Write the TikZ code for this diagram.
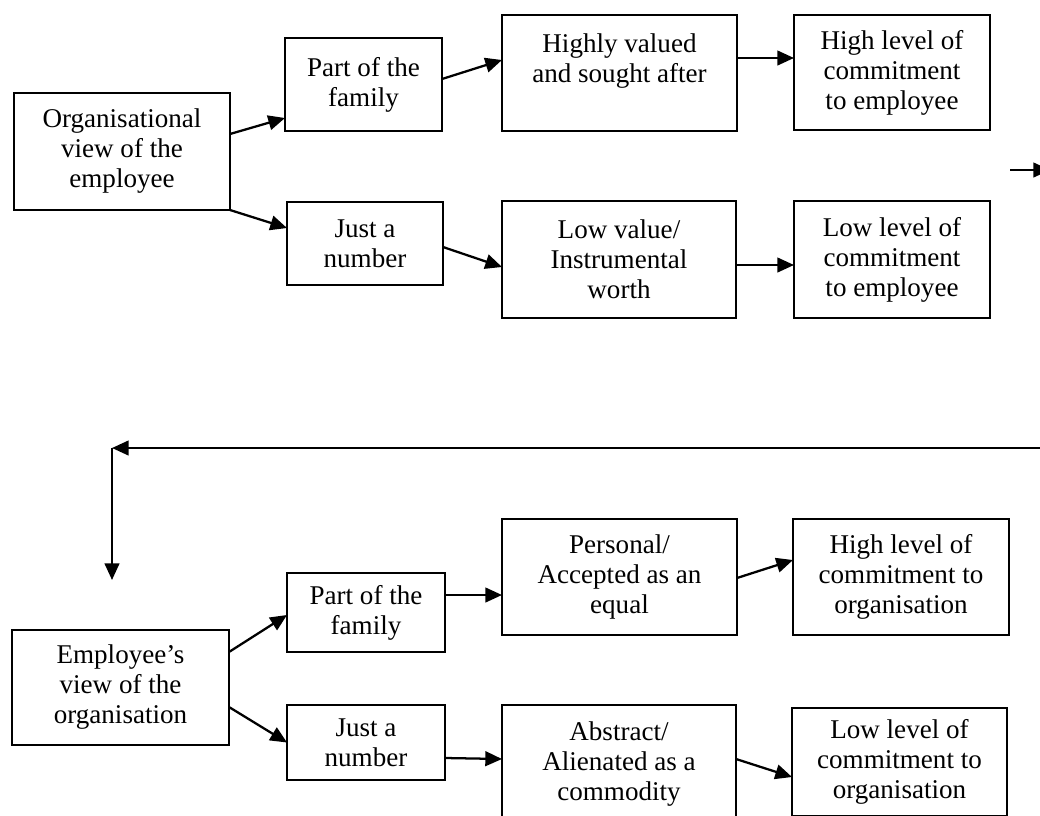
\documentclass[tikz,border=0pt]{standalone}
\usepackage{fontspec}
\setmainfont{Liberation Serif}
\usetikzlibrary{arrows.meta,calc}
\tikzset{box/.style={draw,inner sep=0pt,outer sep=0pt,align=center,font=\fontsize{20.3}{22.5}\selectfont}}
\begin{document}
\begin{tikzpicture}[x=0.75pt,y=-0.75pt,line width=1.7pt,>={Triangle[length=12.5pt,width=11pt]}]
\path[use as bounding box] (0,0) rectangle (1040,815);
\clip (0,0) rectangle (1040,815);
\node[box,minimum width=162pt,minimum height=87.75pt] (org) at (122,151.5) {Organisational\\view of the\\employee};
\node[box,minimum width=117.75pt,minimum height=69.75pt] (famA) at (363.5,84.5) {Part of the\\family};
\node[box,minimum width=117pt,minimum height=62.25pt] (numA) at (365,243.5) {Just a\\number};
\node[box,minimum width=176.25pt,minimum height=87pt] (highA) at (619.5,73) {Highly valued\\and sought after\\\mbox{}};
\node[box,minimum width=175.5pt,minimum height=87.75pt] (lowA) at (619,259.5) {Low value/\\Instrumental\\worth};
\node[box,minimum width=147pt,minimum height=86.25pt] (hcA) at (892,72.5) {High level of\\commitment\\to employee};
\node[box,minimum width=147pt,minimum height=87.75pt] (lcA) at (892,259.5) {Low level of\\commitment\\to employee};
\node[box,minimum width=162.75pt,minimum height=86.25pt] (emp) at (120.5,687.5) {Employee's\\view of the\\organisation};
\node[box,minimum width=118.5pt,minimum height=59.25pt] (famB) at (366,612.5) {Part of the\\family};
\node[box,minimum width=118.5pt,minimum height=56.25pt] (numB) at (366,742.5) {Just a\\number};
\node[box,minimum width=176.25pt,minimum height=87pt] (persB) at (619.5,577) {Personal/\\Accepted as an\\equal};
\node[box,minimum width=175.5pt,minimum height=88.5pt] (absB) at (619,764) {Abstract/\\Alienated as a\\commodity};
\node[box,minimum width=162pt,minimum height=87pt] (hcB) at (901,577) {High level of\\commitment to\\organisation};
\node[box,minimum width=161.25pt,minimum height=81pt] (lcB) at (899.5,762) {Low level of\\commitment to\\organisation};
\coordinate (outA) at (1010,170);
\coordinate (outB) at (1050,170);
\coordinate (backR) at (1045,448);
\coordinate (turn) at (112,448);
\coordinate (downEnd) at (112,580);
\foreach \a/\da/\b/\db in {org/-17.5/famA/33.5, org/58.5/numA/-15.5, famA/-5.5/highA/-13,
  highA/-15/hcA/-14.5, numA/3.5/lowA/7.5, lowA/5.5/lcA/5.5,
  emp/-35.5/famB/2.5, emp/19.5/numB/0, famB/-17.5/persB/18, numB/15.5/absB/-5,
  persB/1/hcB/-17, absB/-5/lcB/15}
  \draw[->] ($(\a.east)+(0,\da)$) -- ($(\b.west)+(0,\db)$);
\draw[->] (outA) -- (outB);
\draw[->] (backR) -- (turn);
\draw[->] (turn) -- (downEnd);
\end{tikzpicture}
\end{document}
